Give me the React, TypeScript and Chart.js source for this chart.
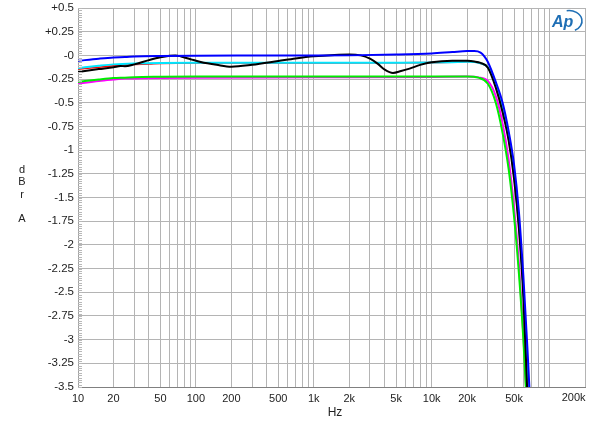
import React, { useEffect, useRef } from "react";
import { Chart, registerables } from "chart.js";

Chart.register(...registerables);

const blueF = [10, 15, 20, 25, 30, 50, 100, 300, 1000, 2000, 5000, 10000, 15000, 20000, 23000, 26000, 28000, 30000, 35000, 40000, 45000, 50000, 55000, 60000, 65000, 70000];
const blueV = [-0.058, -0.035, -0.022, -0.018, -0.012, -0.006, -0.003, -0.002, -0.002, 0, 0.008, 0.02, 0.035, 0.045, 0.045, 0.03, -0.01, -0.07, -0.28, -0.5, -0.8, -1.15, -1.65, -2.33, -3.1, -3.9];

const blackF = [10, 15, 20, 23, 25, 30, 40, 50, 60, 67, 75, 90, 110, 150, 200, 300, 500, 700, 1000, 1500, 2000, 2500, 3000, 3500, 4000, 4700, 5500, 6500, 8000, 10000, 15000, 20000, 23000, 26000, 30000, 35000, 40000, 45000, 50000, 55000, 60000, 65000, 70000];
const blackV = [-0.175, -0.145, -0.125, -0.112, -0.115, -0.095, -0.05, -0.02, -0.004, 0, -0.012, -0.04, -0.07, -0.1, -0.12, -0.1, -0.06, -0.033, -0.01, 0.005, 0.01, 0.0, -0.035, -0.09, -0.15, -0.185, -0.165, -0.14, -0.1, -0.072, -0.056, -0.058, -0.065, -0.08, -0.13, -0.34, -0.6, -0.9, -1.3, -1.83, -2.55, -3.6, -4.5];

const cyanF = [10, 15, 20, 30, 50, 100, 1000, 5000, 10000, 15000, 20000, 23000, 26000, 30000, 35000, 40000, 45000, 50000, 55000, 60000, 65000, 70000];
const cyanV = [-0.135, -0.11, -0.095, -0.085, -0.08, -0.079, -0.079, -0.078, -0.076, -0.072, -0.068, -0.07, -0.085, -0.125, -0.32, -0.57, -0.87, -1.26, -1.78, -2.47, -3.4, -4.35];

const redF = [10, 15, 20, 25, 30, 40, 50, 100, 1000, 5000, 10000, 15000, 20000, 23000, 26000, 30000, 35000, 40000, 45000, 50000, 55000, 60000, 65000, 70000];
const redV = [-0.145, -0.125, -0.11, -0.1, -0.095, -0.09, -0.085, -0.08, -0.079, -0.078, -0.076, -0.072, -0.068, -0.07, -0.085, -0.125, -0.32, -0.57, -0.87, -1.26, -1.78, -2.47, -3.4, -4.35];

const magentaF = [10, 15, 20, 25, 30, 50, 100, 1000, 10000, 20000, 25000, 30000, 35000, 40000, 45000, 50000, 55000, 60000, 65000, 70000];
const magentaV = [-0.3, -0.27, -0.255, -0.245, -0.243, -0.238, -0.235, -0.232, -0.228, -0.224, -0.232, -0.27, -0.43, -0.72, -1.1, -1.6, -2.2, -2.95, -3.8, -4.7];

const greenF = [10, 15, 20, 25, 30, 50, 100, 1000, 10000, 20000, 25000, 30000, 35000, 40000, 45000, 50000, 55000, 60000, 65000, 70000];
const greenV = [-0.28, -0.255, -0.24, -0.235, -0.23, -0.226, -0.223, -0.222, -0.222, -0.222, -0.235, -0.3, -0.5, -0.82, -1.2, -1.7, -2.3, -3.0, -3.85, -4.7];

const xLabelValues = [10, 20, 50, 100, 200, 500, 1000, 2000, 5000, 10000, 20000, 50000];
const xLabelTexts = ["10", "20", "50", "100", "200", "500", "1k", "2k", "5k", "10k", "20k", "50k"];
const xLastValue = 200000;
const xLastText = "200k";

const yTitleLines = ["d", "B", "r", "", "A"];
const xTitle = "Hz";

function pts(f: number[], v: number[]) {
  return f.map((x, i) => ({ x, y: v[i] }));
}

function gridValues(): number[] {
  const out: number[] = [];
  for (let d = 10; d <= 100000; d *= 10) {
    for (let m = 1; m <= 9; m++) {
      const v = d * m;
      if (v <= xLastValue) out.push(v);
    }
  }
  out.push(xLastValue);
  return Array.from(new Set(out)).sort((a, b) => a - b);
}

const FONT = "'Liberation Sans', Arial, sans-serif";

const decor = {
  id: "decor",
  afterDraw(chart: any) {
    const ctx = chart.ctx;
    const { left, bottom } = chart.chartArea;
    const yS = chart.scales.y;
    const xS = chart.scales.x;
    ctx.save();
    ctx.strokeStyle = "#b8b8b8";
    ctx.lineWidth = 1;
    ctx.beginPath();
    for (let v = -3.5; v <= 0.5001; v += 0.025) {
      const py = Math.round(yS.getPixelForValue(v)) + 0.5;
      ctx.moveTo(left, py);
      ctx.lineTo(left + 4, py);
    }
    ctx.stroke();
    ctx.fillStyle = "#222";
    ctx.font = "11px " + FONT;
    ctx.textAlign = "right";
    ctx.textBaseline = "top";
    ctx.fillText(xLastText, xS.getPixelForValue(xLastValue) + 0.5, bottom + 5);
    ctx.textAlign = "center";
    ctx.textBaseline = "middle";
    yTitleLines.forEach((t, i) => {
      if (t) ctx.fillText(t, 22, 170 + i * 12.3);
    });
    ctx.font = "12px " + FONT;
    ctx.fillText(xTitle, 335, 413);
    ctx.fillStyle = "#1f6fb5";
    ctx.strokeStyle = "#1f6fb5";
    ctx.font = "italic bold 16px " + FONT;
    ctx.textAlign = "left";
    ctx.textBaseline = "alphabetic";
    ctx.fillText("Ap", 552, 27);
    ctx.lineWidth = 1.6;
    ctx.beginPath();
    ctx.ellipse(569, 21, 13, 10.5, 0, -1.75, 1.1);
    ctx.stroke();
    ctx.restore();
  },
};

export default function App() {
  const ref = useRef<HTMLCanvasElement | null>(null);
  useEffect(() => {
    if (!ref.current) return;
    const mk = (label: string, f: number[], v: number[], color: string, w: number) => ({
      label,
      data: pts(f, v),
      borderColor: color,
      backgroundColor: color,
      borderWidth: w,
      pointRadius: 0,
      cubicInterpolationMode: "monotone" as const,
      fill: false,
    });
    const chart = new Chart(ref.current, {
      type: "line",
      data: {
        datasets: [
          mk("blue", blueF, blueV, "#0000ff", 2),
          mk("black", blackF, blackV, "#000000", 2),
          mk("green", greenF, greenV, "#00ee00", 2),
          mk("cyan", cyanF, cyanV, "#00e6ff", 2),
          mk("magenta", magentaF, magentaV, "#ff00ff", 2),
          mk("red", redF, redV, "#ff0000", 1.6),
        ],
      },
      options: {
        animation: false,
        responsive: true,
        maintainAspectRatio: false,
        layout: { padding: { left: 0, right: 15, top: 8, bottom: 0 } },
        plugins: { legend: { display: false }, tooltip: { enabled: false } },
        scales: {
          x: {
            type: "logarithmic",
            min: 10,
            max: xLastValue,
            afterFit: (s: any) => {
              s.height = 44;
              s.paddingRight = 0;
            },
            afterBuildTicks: (s: any) => {
              s.ticks = gridValues().map((v) => ({ value: v }));
            },
            ticks: {
              autoSkip: false,
              maxRotation: 0,
              padding: 5,
              color: "#222",
              font: { family: FONT, size: 11 },
              callback: (val: any) => {
                const i = xLabelValues.indexOf(Number(val));
                return i >= 0 ? xLabelTexts[i] : "";
              },
            },
            grid: { color: "#b4b4b4", drawTicks: false, lineWidth: 1 },
            border: { display: true, color: "#808080" },
          },
          y: {
            type: "linear",
            min: -3.5,
            max: 0.5,
            afterFit: (s: any) => {
              s.width = 78;
              s.paddingTop = 0;
              s.paddingBottom = 0;
            },
            ticks: {
              stepSize: 0.25,
              padding: 4,
              color: "#222",
              font: { family: FONT, size: 11.5 },
              callback: (val: any) => {
                const n = Number(val);
                if (Math.abs(n) < 1e-9) return "-0";
                return n > 0 ? "+" + n : String(n);
              },
            },
            grid: { color: "#b4b4b4", drawTicks: false, lineWidth: 1 },
            border: { display: true, color: "#a0a0a0" },
          },
        },
      },
      plugins: [decor],
    });
    return () => chart.destroy();
  }, []);
  return (
    <div style={{ position: "absolute", left: 0, top: 0, width: 600, height: 431, background: "#fff" }}>
      <canvas ref={ref} />
    </div>
  );
}
